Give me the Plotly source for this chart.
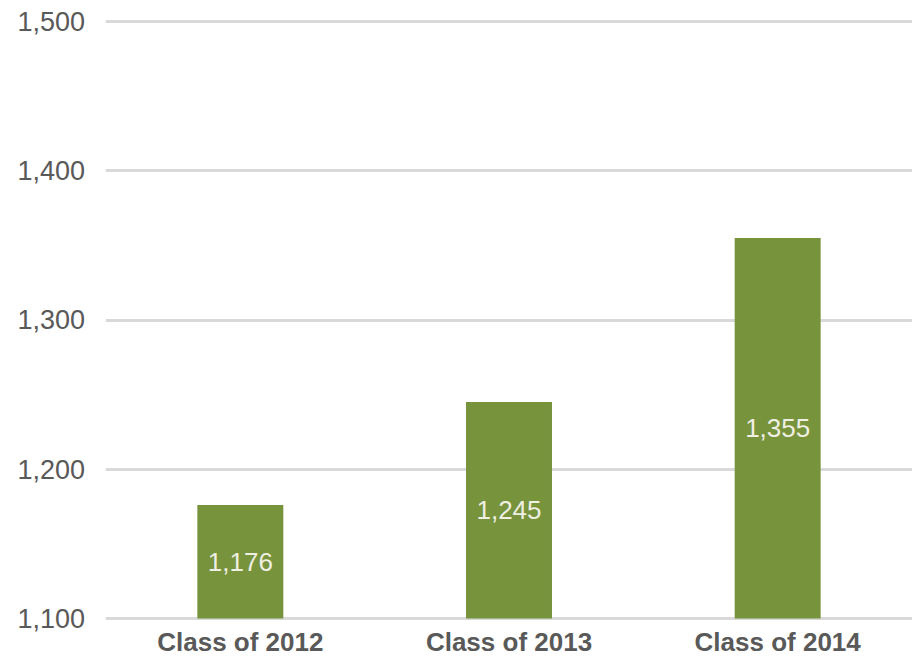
"""Class size comparison bar chart."""

import plotly.graph_objects as go

classes = ["Class of 2012", "Class of 2013", "Class of 2014"]
students = [1176, 1245, 1355]
y_ticks = [1100, 1200, 1300, 1400, 1500]
y_tick_labels = ["1,100", "1,200", "1,300", "1,400", "1,500"]

fig = go.Figure()
fig.add_trace(go.Bar(
    x=classes,
    y=[v - 1100 for v in students],
    base=1100,
    marker=dict(color="#77933C", line=dict(width=0)),
    text=[f"{v:,}" for v in students],
    textposition="inside",
    insidetextanchor="middle",
    textfont=dict(family="Liberation Sans, Arial", size=26, color="#EFEFE3"),
    textangle=0,
    hoverinfo="skip",
))

# page body has an 8px margin, margins below compensate for it
fig.update_layout(
    width=920,
    height=666,
    margin=dict(l=98, r=16, t=12, b=54),
    paper_bgcolor="white",
    plot_bgcolor="white",
    bargap=0.68,
    showlegend=False,
    font=dict(family="Liberation Sans, Arial", color="#595959"),
    xaxis=dict(
        showgrid=False,
        showline=False,
        ticks="",
        automargin=False,
        ticklabelstandoff=4,
        tickfont=dict(size=26, family="Liberation Sans, Arial", weight="bold"),
    ),
    yaxis=dict(
        range=[1099, 1501],
        tickvals=y_ticks,
        ticktext=y_tick_labels,
        showgrid=True,
        gridcolor="#D9D9D9",
        gridwidth=3,
        zeroline=False,
        showline=False,
        ticks="",
        automargin=False,
        ticklabelstandoff=20,
        ticklabeloverflow="allow",
        tickfont=dict(size=27),
    ),
)

fig.write_html("out.html")
